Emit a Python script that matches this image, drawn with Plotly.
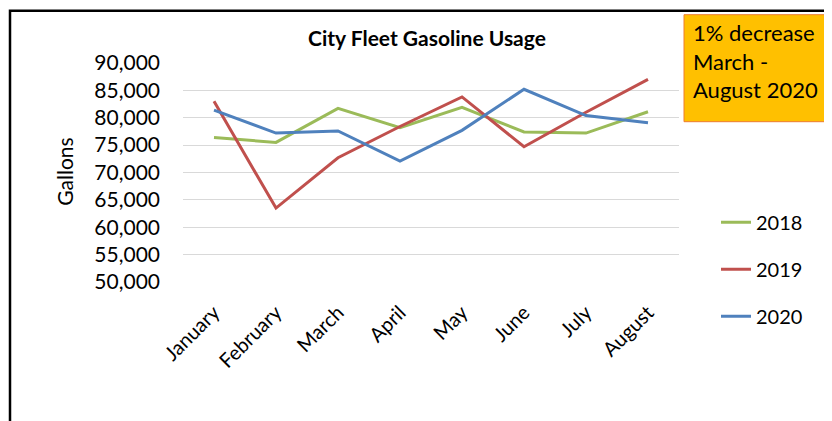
import plotly.graph_objects as go

months = ["January", "February", "March", "April", "May", "June", "July", "August"]
usage_2018 = [76400, 75500, 81700, 78200, 81900, 77400, 77200, 81100]
usage_2019 = [83000, 63500, 72700, 78400, 83800, 74700, 81000, 87000]
usage_2020 = [81400, 77200, 77600, 72100, 77700, 85200, 80400, 79100]
series_names = ["2018", "2019", "2020"]
series_colors = ["#9BBB59", "#C0504D", "#4F81BD"]
y_ticks = [50000, 55000, 60000, 65000, 70000, 75000, 80000, 85000, 90000]

FONT = "Lato, 'Open Sans', sans-serif"

# page body has an 8px margin; compensate so screen pixels line up
OFF = 8
W, H = 832, 421
PLOT_L, PLOT_R, PLOT_T, PLOT_B = 183, 679, 63.3, 282.3  # desired screen px
L = PLOT_L - OFF
T = PLOT_T - OFF
R = W - (PLOT_R - OFF)
B = H - (PLOT_B - OFF)
PW = PLOT_R - PLOT_L
PH = PLOT_B - PLOT_T


def px_x(px):
    return (px - PLOT_L) / PW


def px_y(py):
    return (PLOT_B - py) / PH


fig = go.Figure()
for name, vals, col in zip(series_names, [usage_2018, usage_2019, usage_2020], series_colors):
    fig.add_trace(go.Scatter(
        x=months, y=vals, name=name, mode="lines",
        line=dict(color=col, width=3),
        legendgroup=name,
    ))

fig.update_layout(
    width=W, height=H,
    margin=dict(l=L, r=R, t=T, b=B, autoexpand=False),
    paper_bgcolor="white", plot_bgcolor="white",
    font=dict(family=FONT, color="black"),
    showlegend=True,
    legend=dict(
        x=px_x(716), y=px_y(203), xanchor="left", yanchor="top",
        font=dict(size=20, family=FONT, color="black"),
        bgcolor="rgba(0,0,0,0)", borderwidth=0,
        tracegroupgap=18, traceorder="grouped",
        itemwidth=30,
    ),
    xaxis=dict(
        type="category", tickangle=-45, showgrid=False, showline=False,
        ticks="", tickfont=dict(size=20, family=FONT, color="black"),
        ticklabelstandoff=14, range=[-0.5, 7.5],
    ),
    yaxis=dict(
        range=[50000, 90000], tickvals=y_ticks, tickformat=",d",
        showgrid=True, gridcolor="#D9D9D9", gridwidth=1,
        zeroline=False, showline=False, ticks="",
        tickfont=dict(size=21, family=FONT, color="black"),
        ticklabelstandoff=22,
    ),
)

# Outer chart frame
fig.add_shape(type="rect", xref="paper", yref="paper",
              x0=px_x(10), x1=px_x(860), y0=px_y(460), y1=px_y(11),
              line=dict(color="black", width=2.5), fillcolor="rgba(0,0,0,0)", layer="above")

# Annotation box
fig.add_shape(type="rect", xref="paper", yref="paper",
              x0=px_x(684), x1=px_x(860), y0=px_y(122), y1=px_y(15),
              line=dict(color="#ED7D31", width=1), fillcolor="#FFC000", layer="above")

fig.add_annotation(xref="paper", yref="paper", x=px_x(691), y=px_y(17),
                   xanchor="left", yanchor="top", align="left", showarrow=False,
                   text="1% decrease<br>March -<br>August 2020",
                   font=dict(size=22, family=FONT, color="black"))

# Title
fig.add_annotation(xref="paper", yref="paper", x=px_x(427), y=px_y(38),
                   xanchor="center", yanchor="middle", showarrow=False,
                   text="<b>City Fleet Gasoline Usage</b>",
                   font=dict(size=21, family=FONT, color="black"))

# Y axis title
fig.add_annotation(xref="paper", yref="paper", x=px_x(65), y=px_y(172),
                   xanchor="center", yanchor="middle", showarrow=False,
                   text="Gallons", textangle=-90,
                   font=dict(size=21, family=FONT, color="black"))

fig.write_html("out.html")
